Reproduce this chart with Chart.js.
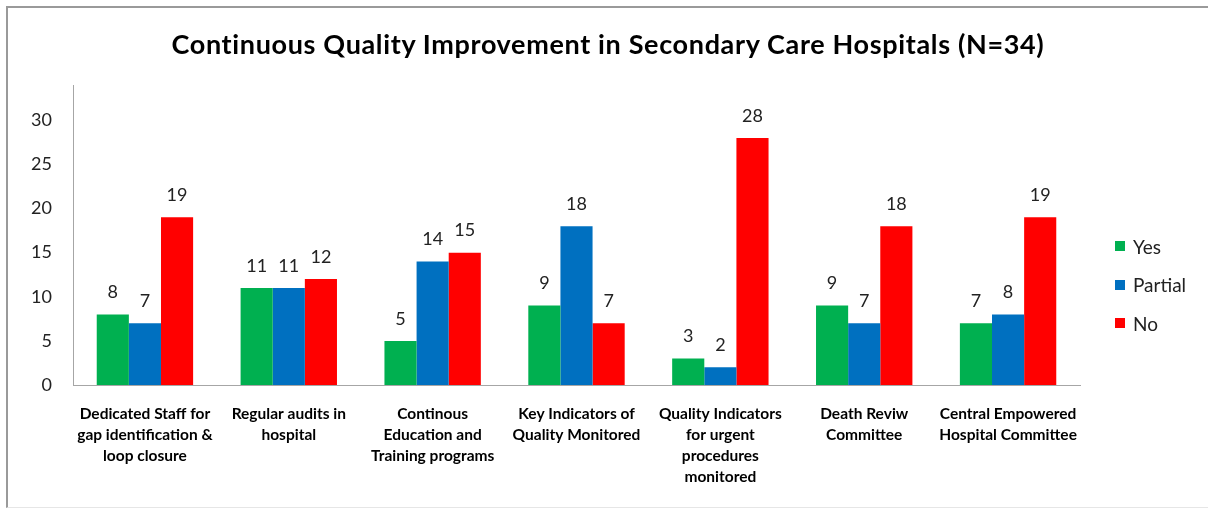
<!DOCTYPE html>
<html>
<head>
<meta charset="utf-8">
<script src="https://cdn.jsdelivr.net/npm/chart.js@4/dist/chart.umd.min.js"></script>
<style>
    html, body { margin: 0; padding: 0; background: #fff; }
    #wrap { position: relative; width: 1208px; height: 508px; overflow: hidden; }
    #frame {
        position: absolute; left: 6px; top: 6px; width: 1220px; height: 499px;
        border-left: 2px solid #9a9a9a; border-top: 2px solid #9a9a9a; border-bottom: 1px solid #e6e6e6;
    }
    #qiChart { position: absolute; left: 0; top: 0; }
    #title {
        position: absolute; left: 0; width: 1216px; top: 27px; text-align: center;
        font-family: Lato, sans-serif; font-weight: bold; font-size: 27px; letter-spacing: 0.65px; color: #000;
    }
    #legend { position: absolute; left: 1115px; top: 234px; font-family: Lato, sans-serif; font-size: 19px; color: #222; }
    #legend .item { display: flex; align-items: center; height: 24px; margin-bottom: 14.5px; }
    #legend .swatch { width: 10px; height: 10px; margin-right: 8px; }
</style>
</head>
<body>
<div id="wrap">
    <div id="frame"></div>
    <canvas id="qiChart" width="1208" height="508"></canvas>
    <div id="title">Continuous Quality Improvement in Secondary Care Hospitals (N=34)</div>
    <div id="legend"></div>
</div>
<script>
const categories = [
    ['Dedicated Staff for', 'gap identification &', 'loop closure'],
    ['Regular audits in', 'hospital'],
    ['Continous', 'Education and', 'Training programs'],
    ['Key Indicators of', 'Quality Monitored'],
    ['Quality Indicators', 'for urgent', 'procedures', 'monitored'],
    ['Death Reviw', 'Committee'],
    ['Central Empowered', 'Hospital Committee']
];
const seriesNames = ['Yes', 'Partial', 'No'];
const yesValues = [8, 11, 5, 9, 3, 9, 7];
const partialValues = [7, 11, 14, 18, 2, 7, 8];
const noValues = [19, 12, 15, 7, 28, 18, 19];
const seriesColors = ['#00B050', '#0070C0', '#FF0000'];
const yTicks = [0, 5, 10, 15, 20, 25, 30];

// value labels above each bar
const barValueLabels = {
    id: 'barValueLabels',
    afterDatasetsDraw(chart) {
        const ctx = chart.ctx;
        ctx.save();
        ctx.font = '18px Lato, sans-serif';
        ctx.fillStyle = '#222';
        ctx.textAlign = 'center';
        ctx.textBaseline = 'middle';
        chart.data.datasets.forEach((ds, i) => {
            chart.getDatasetMeta(i).data.forEach((bar, j) => {
                ctx.fillText(String(ds.data[j]), bar.x, bar.y - 22);
            });
        });
        ctx.restore();
    }
};

const allSeries = [yesValues, partialValues, noValues];

new Chart(document.getElementById('qiChart'), {
    type: 'bar',
    data: {
        labels: categories,
        datasets: seriesNames.map((name, i) => ({
            label: name,
            data: allSeries[i],
            backgroundColor: seriesColors[i],
            borderWidth: 0,
            categoryPercentage: 0.67,
            barPercentage: 1
        }))
    },
    options: {
        responsive: false,
        animation: false,
        layout: { padding: { left: 0, right: 128, top: 85, bottom: 0 } },
        plugins: {
            legend: { display: false },
            tooltip: { enabled: false }
        },
        scales: {
            x: {
                grid: { display: false },
                border: { display: true, color: '#a6a6a6', width: 1 },
                ticks: {
                    color: '#000',
                    font: { family: 'Lato, sans-serif', size: 15.5, weight: 'bold', lineHeight: 1.355 },
                    padding: 10,
                    maxRotation: 0,
                    autoSkip: false
                },
                afterFit(scale) { scale.height = 123; }
            },
            y: {
                min: 0,
                max: 34,
                grid: { display: false },
                border: { display: true, color: '#a6a6a6', width: 1 },
                afterBuildTicks(scale) { scale.ticks = yTicks.map(v => ({ value: v })); },
                ticks: {
                    color: '#222',
                    font: { family: 'Lato, sans-serif', size: 18 },
                    padding: 13
                },
                afterFit(scale) { scale.width = 73; }
            }
        }
    },
    plugins: [barValueLabels]
});

document.getElementById('legend').innerHTML = seriesNames.map((name, i) => `
    <div class="item"><span class="swatch" style="background:${seriesColors[i]}"></span>${name}</div>
`).join('');
</script>
</body>
</html>
